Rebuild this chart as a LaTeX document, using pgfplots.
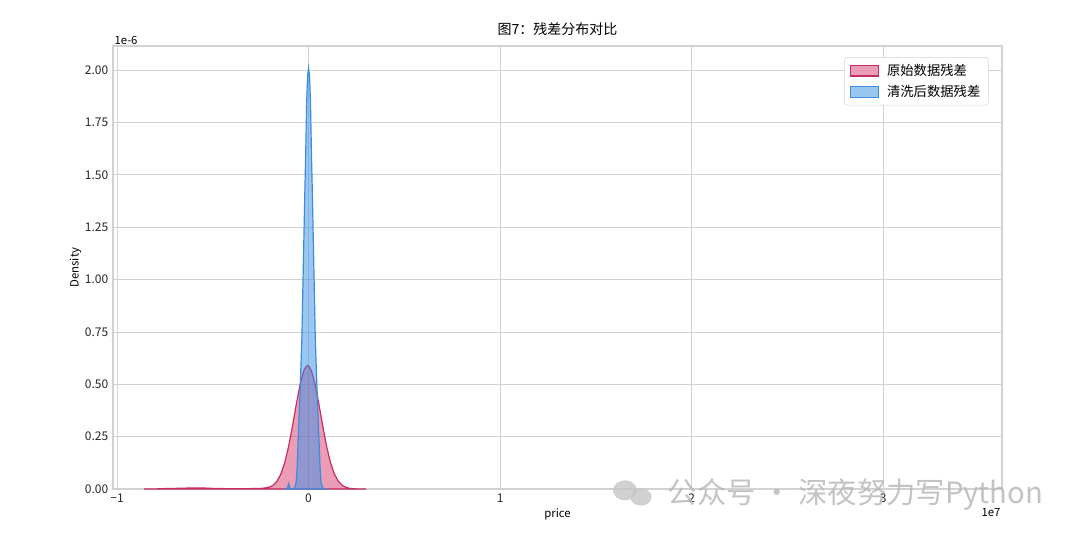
\documentclass[border=0pt]{standalone}
\usepackage{pgfplots}
\pgfplotsset{compat=1.18}
\usepackage{fontspec}
\setmainfont{Noto Sans CJK SC}
\definecolor{redE}{RGB}{200,45,95}
\definecolor{redF}{RGB}{215,60,110}
\definecolor{bluE}{RGB}{60,140,220}
\definecolor{bluF}{RGB}{55,145,230}
\definecolor{gridc}{RGB}{210,210,210}
\begin{document}
\begin{tikzpicture}
\path[use as bounding box] (-84.75pt,-36pt) rectangle (725.25pt,366.75pt);
\begin{axis}[
  at={(0,0)}, anchor=south west,
  scale only axis, width=666.75pt, height=332.25pt,
  xmin=-1.021, xmax=3.62, ymin=0, ymax=2.115,
  xtick={-1,0,1,2,3}, xticklabels={−1,0,1,2,3},
  ytick={0,0.25,0.5,0.75,1,1.25,1.5,1.75,2},
  yticklabel style={/pgf/number format/.cd, fixed, fixed zerofill, precision=2},
  /pgf/number format/assume math mode=true,
  ticklabel style={font=\fontsize{9}{10}\selectfont, text=black!85},
  major tick length=0pt,
  grid=major, grid style={gridc, line width=0.6pt},
  axis line style={gridc, line width=0.8pt},
  xlabel={price}, ylabel={Density},
  label style={font=\fontsize{8.5}{10}\selectfont},
  xlabel style={yshift=2pt},
  ylabel style={yshift=-4pt},
  title={图7：残差分布对比},
  title style={font=\fontsize{10.5}{12}\selectfont, yshift=-2pt},
  legend style={at={(0.985,0.975)}, anchor=north east, draw=gridc, rounded corners=2pt,
    font=\fontsize{10}{12}\selectfont, row sep=2pt, inner xsep=4pt, inner ysep=3pt,
    /tikz/every odd column/.append style={column sep=4pt}},
  legend cell align=left,
  legend image code/.code={\path[sharp corners,#1] (0pt,-4pt) rectangle (21pt,4pt);},
  clip=false,
]
\addplot[draw=redE, line width=0.9pt, fill=redF, fill opacity=0.5] coordinates {
(-0.86,0) (-0.80,0.0005) (-0.75,0.002) (-0.70,0.003) (-0.65,0.004) (-0.60,0.0055) (-0.55,0.005)
(-0.50,0.003) (-0.45,0.002) (-0.40,0.0015) (-0.35,0.0015) (-0.30,0.002) (-0.25,0.003)
(-0.225,0.005) (-0.205,0.009) (-0.185,0.018) (-0.165,0.037) (-0.145,0.071) (-0.125,0.124)
(-0.105,0.200) (-0.085,0.295) (-0.065,0.400) (-0.045,0.496) (-0.025,0.565) (-0.015,0.582)
(-0.005,0.59) (0.005,0.582) (0.015,0.565) (0.035,0.496) (0.055,0.400) (0.075,0.295) (0.095,0.200)
(0.115,0.124) (0.135,0.071) (0.155,0.037) (0.175,0.018) (0.195,0.008) (0.215,0.003)
(0.25,0.0005) (0.30,0)
} \closedcycle;
\addlegendentry{原始数据残差}
\addplot[draw=bluE, line width=0.9pt, fill=bluF, fill opacity=0.5] coordinates {
(-0.12,0) (-0.11,0.004) (-0.104,0.025) (-0.098,0.005) (-0.09,0.001) (-0.08,0.002)
(-0.072,0.006) (-0.065,0.03) (-0.06,0.1) (-0.055,0.22) (-0.045,0.45) (-0.035,0.72)
(-0.03,0.95) (-0.02,1.4) (-0.015,1.6) (-0.01,1.85) (-0.005,1.97) (0,2.01) (0.005,1.97)
(0.01,1.85) (0.015,1.6) (0.02,1.4) (0.03,0.95) (0.035,0.72) (0.045,0.45) (0.055,0.22)
(0.06,0.1) (0.065,0.03) (0.075,0.005) (0.09,0)
} \closedcycle;
\addlegendentry{清洗后数据残差}
\node[anchor=south west, font=\fontsize{8.5}{10}\selectfont, inner sep=1pt] at (rel axis cs:0,1) {1e-6};
\node[anchor=north east, font=\fontsize{8.5}{10}\selectfont, inner sep=1pt] at ([yshift=-13pt]rel axis cs:1,0) {1e7};
\end{axis}
% watermark
\fill[gray!45, opacity=0.8] (384pt,-1pt) ellipse (9pt and 7.5pt);
\fill[gray!45, opacity=0.8] (396pt,-6pt) ellipse (8pt and 6.5pt);
\node[anchor=west, text=gray!55, opacity=0.85, font=\fontsize{22}{24}\selectfont, inner sep=0pt] at (416pt,-4pt) {公众号 · 深夜努力写Python};
\end{tikzpicture}
\end{document}
